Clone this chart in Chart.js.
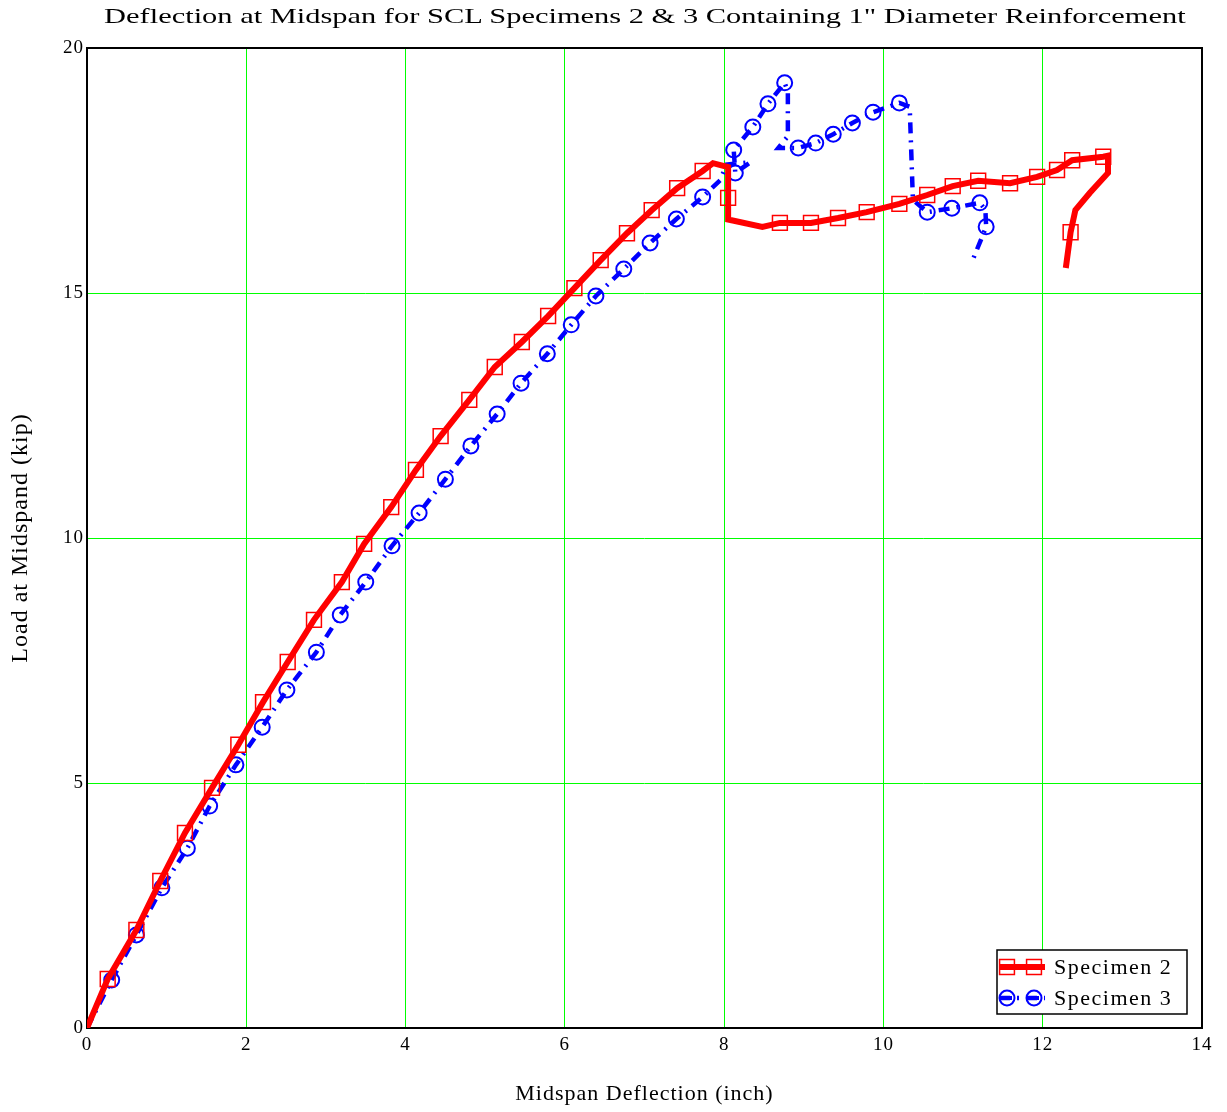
<!DOCTYPE html>
<html>
<head>
<meta charset="utf-8">
<title>Deflection at Midspan</title>
<script src="https://cdn.jsdelivr.net/npm/chart.js@4.4.0/dist/chart.umd.min.js"></script>
<style>
    html, body { margin: 0; padding: 0; background: #fff; }
    #wrap { position: relative; width: 1227px; height: 1112px; overflow: hidden; }
    #title {
        position: absolute; top: 3px; left: 31px; width: 1227px;
        text-align: center; white-space: nowrap; color: #000;
        font-family: 'Liberation Serif', 'DejaVu Serif', serif; font-size: 22px; line-height: 26px;
    }
    #title span { display: inline-block; transform-origin: center; }
    #chart { position: absolute; left: 0; top: 0; }
</style>
</head>
<body>
<div id="wrap">
    <canvas id="chart" width="1227" height="1112"></canvas>
    <div id="title"><span>Deflection at Midspan for SCL Specimens 2 &amp; 3 Containing 1" Diameter Reinforcement</span></div>
</div>
<script>
const FONT = "'Liberation Serif', 'DejaVu Serif', serif";

// axis ticks
const xTicks = [0, 2, 4, 6, 8, 10, 12, 14];
const yTicks = [0, 5, 10, 15, 20];

// Specimen 2 (red, squares)
const spec2X = [0, 0.26, 0.62, 0.92, 1.23, 1.57, 1.90, 2.21, 2.52, 2.85, 3.20, 3.48, 3.82, 4.13, 4.44, 4.80,
    5.12, 5.46, 5.79, 6.12, 6.45, 6.78, 7.09, 7.41, 7.73, 7.86, 8.05, 8.05, 8.05, 8.48, 8.70, 9.09,
    9.43, 9.79, 10.20, 10.55, 10.87, 11.19, 11.59, 11.93, 12.18, 12.37, 12.76, 12.82, 12.82, 12.59,
    12.41, 12.35, 12.29];
const spec2Y = [0, 1.00, 2.00, 3.00, 3.98, 4.90, 5.78, 6.65, 7.47, 8.33, 9.10, 9.88, 10.63, 11.39, 12.08, 12.82,
    13.49, 14.00, 14.53, 15.10, 15.67, 16.22, 16.69, 17.14, 17.49, 17.65, 17.57, 16.94, 16.50, 16.35, 16.43, 16.43,
    16.53, 16.65, 16.82, 17.00, 17.18, 17.29, 17.24, 17.37, 17.51, 17.71, 17.78, 17.80, 17.45, 17.04,
    16.69, 16.24, 15.51];
const spec2Marker = [0, 1, 1, 1, 1, 1, 1, 1, 1, 1, 1, 1, 1, 1, 1, 1,
    1, 1, 1, 1, 1, 1, 1, 1, 1, 0, 0, 1, 0, 0, 1, 1,
    1, 1, 1, 1, 1, 1, 1, 1, 1, 1, 1, 0, 0, 0,
    0, 1, 0];

// Specimen 3 (blue, circles)
const spec3X = [0, 0.31, 0.62, 0.94, 1.26, 1.54, 1.87, 2.20, 2.51, 2.88, 3.18, 3.50, 3.83, 4.17, 4.50, 4.82,
    5.15, 5.45, 5.78, 6.08, 6.39, 6.74, 7.07, 7.40, 7.73, 7.95, 8.03, 8.33, 8.14, 8.12, 8.36, 8.55,
    8.76, 8.80, 8.80, 8.68, 8.93, 9.15, 9.37, 9.61, 9.87, 10.20, 10.33, 10.37, 10.55, 10.86, 11.21,
    11.28, 11.29, 11.11];
const spec3Y = [0, 0.98, 1.90, 2.86, 3.67, 4.53, 5.37, 6.14, 6.90, 7.67, 8.43, 9.10, 9.84, 10.51, 11.20, 11.88,
    12.53, 13.16, 13.76, 14.35, 14.94, 15.49, 16.02, 16.51, 16.96, 17.30, 17.62, 17.67, 17.45, 17.92, 18.39, 18.86,
    19.29, 19.10, 18.20, 17.96, 17.96, 18.06, 18.24, 18.47, 18.69, 18.88, 18.80, 16.90, 16.65, 16.73, 16.84,
    16.70, 16.35, 15.63];
const spec3Marker = [0, 1, 1, 1, 1, 1, 1, 1, 1, 1, 1, 1, 1, 1, 1, 1,
    1, 1, 1, 1, 1, 1, 1, 1, 1, 0, 0, 0, 1, 1, 1, 1,
    1, 0, 0, 0, 1, 1, 1, 1, 1, 1, 0, 0, 1, 1, 1,
    0, 1, 0];

const seriesNames = ['Specimen 2', 'Specimen 3'];
const BLUE_DASH = [11, 7, 2, 7];

function toPoints(xs, ys) {
    return xs.map((x, i) => ({ x: x, y: ys[i] }));
}

// box round the plot + the key in the lower right
const frameAndKey = {
    id: 'frameAndKey',
    beforeDraw(chart) {
        chart.ctx.letterSpacing = '1px';
    },
    beforeDatasetsDraw(chart) {
        const { ctx, chartArea: a } = chart;
        ctx.save();
        ctx.strokeStyle = '#000';
        ctx.lineWidth = 2;
        ctx.strokeRect(a.left, a.top, a.right - a.left, a.bottom - a.top);
        ctx.restore();
    },
    afterDraw(chart) {
        const { ctx, chartArea: a } = chart;
        const bx = a.right - 205, by = a.bottom - 78, bw = 190, bh = 64;
        ctx.save();
        ctx.fillStyle = '#fff';
        ctx.fillRect(bx, by, bw, bh);
        ctx.strokeStyle = '#000';
        ctx.lineWidth = 1.5;
        ctx.strokeRect(bx, by, bw, bh);

        chart.data.datasets.forEach((ds, i) => {
            const y = by + 17 + i * 31;
            ctx.save();
            ctx.strokeStyle = ds.borderColor;
            ctx.lineWidth = ds.borderWidth;
            ctx.setLineDash(ds.borderDash || []);
            ctx.beginPath();
            ctx.moveTo(bx + 2, y);
            ctx.lineTo(bx + 48, y);
            ctx.stroke();
            ctx.restore();

            [bx + 10, bx + 37].forEach(px => {
                ctx.save();
                ctx.fillStyle = 'rgba(0,0,0,0)';
                ctx.strokeStyle = ds.pointBorderColor;
                ctx.lineWidth = ds.pointBorderWidth;
                Chart.helpers.drawPoint(ctx, {
                    pointStyle: ds.pointStyle,
                    radius: ds.pointStyle === 'rect' ? 10.5 : 7.5,
                    borderWidth: ds.pointBorderWidth
                }, px, y);
                if (ds.pointStyle === 'circle') {
                    ctx.lineWidth = 4;
                    ctx.beginPath();
                    ctx.moveTo(px - 5, y);
                    ctx.lineTo(px + 5, y);
                    ctx.stroke();
                }
                ctx.restore();
            });

            ctx.fillStyle = '#000';
            ctx.font = '22px ' + FONT;
            ctx.letterSpacing = '1.5px';
            ctx.textBaseline = 'middle';
            ctx.textAlign = 'left';
            ctx.fillText(ds.label, bx + 57, y + 1);
        });
        ctx.restore();
    }
};

const chart = new Chart(document.getElementById('chart'), {
    type: 'line',
    data: {
        datasets: [
            {
                label: seriesNames[0],
                data: toPoints(spec2X, spec2Y),
                borderColor: '#ff0000',
                borderWidth: 6,
                pointStyle: 'rect',
                pointRadius: ctx => spec2Marker[ctx.dataIndex] ? 10.5 : 0,
                pointBorderColor: '#ff0000',
                pointBorderWidth: 1.5,
                pointBackgroundColor: 'rgba(0,0,0,0)',
                tension: 0
            },
            {
                label: seriesNames[1],
                data: toPoints(spec3X, spec3Y),
                borderColor: '#0000ff',
                borderWidth: 4.5,
                borderDash: BLUE_DASH,
                pointStyle: 'circle',
                pointRadius: ctx => spec3Marker[ctx.dataIndex] ? 7.5 : 0,
                pointBorderColor: '#0000ff',
                pointBorderWidth: 2,
                pointBackgroundColor: 'rgba(0,0,0,0)',
                tension: 0
            }
        ]
    },
    options: {
        responsive: false,
        animation: false,
        events: [],
        layout: { padding: { top: 48, right: 25, left: 0, bottom: 0 } },
        plugins: {
            legend: { display: false },
            title: { display: false },
            tooltip: { enabled: false }
        },
        scales: {
            x: {
                type: 'linear',
                min: xTicks[0],
                max: xTicks[xTicks.length - 1],
                afterFit: s => { s.height = 84; },
                afterBuildTicks: s => { s.ticks = xTicks.map(v => ({ value: v })); },
                ticks: { color: '#000', padding: 6, font: { family: FONT, size: 19 } },
                grid: { color: '#00ff00', lineWidth: 1, drawTicks: false },
                border: { display: false },
                title: {
                    display: true, text: 'Midspan Deflection (inch)', color: '#000',
                    font: { family: FONT, size: 22 }, padding: { top: 0, bottom: 5 }
                }
            },
            y: {
                type: 'linear',
                min: yTicks[0],
                max: yTicks[yTicks.length - 1],
                afterFit: s => { s.width = 87; },
                afterBuildTicks: s => { s.ticks = yTicks.map(v => ({ value: v })); },
                ticks: { color: '#000', padding: 3, font: { family: FONT, size: 19 } },
                grid: { color: '#00ff00', lineWidth: 1, drawTicks: false },
                border: { display: false },
                title: {
                    display: true, text: 'Load at Midspand (kip)', color: '#000',
                    font: { family: FONT, size: 24 }, padding: { top: 6, bottom: 0 }
                }
            }
        }
    },
    plugins: [frameAndKey]
});

// the reference title is drawn wide, stretch it to the same span
const titleSpan = document.querySelector('#title span');
titleSpan.style.transform = 'scaleX(' + (1082 / titleSpan.offsetWidth) + ')';
</script>
</body>
</html>
